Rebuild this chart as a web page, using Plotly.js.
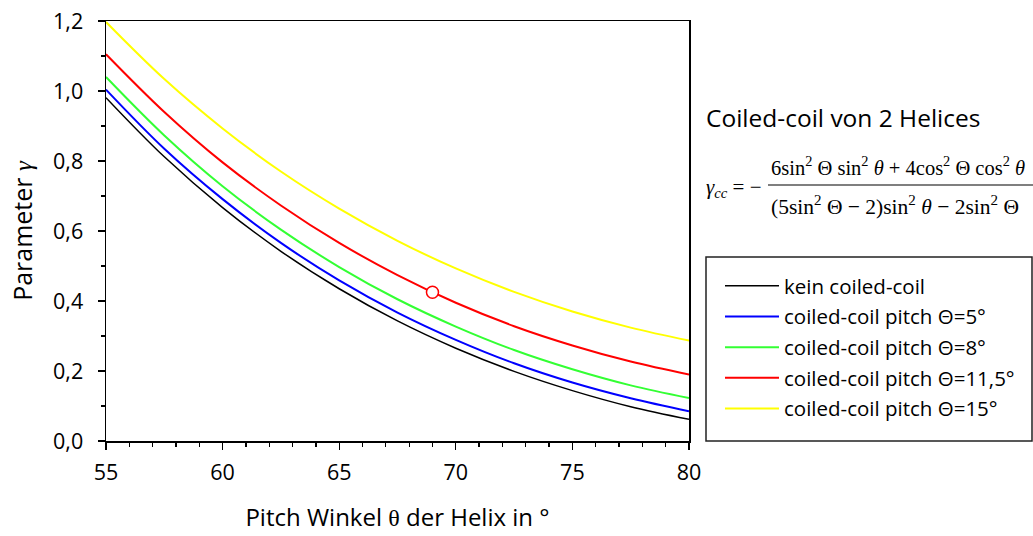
<!DOCTYPE html>
<html>
<head>
<meta charset="utf-8">
<script src="https://cdn.plot.ly/plotly-3.0.1.min.js"></script>
<style>html,body{margin:0;padding:0;background:#fff;}#chart{width:1033px;height:536px;}</style>
</head>
<body>
<div id="chart"></div>
<script>
// Pitch angle theta (degrees)
const pitchAngles = [55, 57.5, 60, 62.5, 65, 67.5, 70, 72.5, 75, 77.5, 80];
// gamma values
const gammaNoCoil   = [0.981, 0.812, 0.667, 0.542, 0.435, 0.343, 0.265, 0.199, 0.144, 0.098, 0.062];
const gammaTheta5   = [1.004, 0.835, 0.691, 0.566, 0.459, 0.367, 0.289, 0.222, 0.167, 0.122, 0.085];
const gammaTheta8   = [1.040, 0.873, 0.728, 0.604, 0.497, 0.405, 0.327, 0.260, 0.205, 0.159, 0.123];
const gammaTheta115 = [1.105, 0.940, 0.796, 0.673, 0.566, 0.474, 0.395, 0.328, 0.273, 0.227, 0.190];
const gammaTheta15  = [1.197, 1.034, 0.893, 0.770, 0.664, 0.572, 0.493, 0.426, 0.370, 0.324, 0.287];
const seriesNames = ["kein coiled-coil", "coiled-coil pitch Θ=5°", "coiled-coil pitch Θ=8°", "coiled-coil pitch Θ=11,5°", "coiled-coil pitch Θ=15°"];
const seriesColors = ["#000000", "#0000ff", "#33ff33", "#ff0000", "#ffff00"];
// highlighted point on the Θ=11,5° curve
const markX = [69];
const markY = [0.425];

const ys = [gammaNoCoil, gammaTheta5, gammaTheta8, gammaTheta115, gammaTheta15];
const traces = ys.map((y, i) => ({
  x: pitchAngles, y: y, type: 'scatter', mode: 'lines', name: seriesNames[i],
  legendgroup: 'g' + i,
  line: {color: seriesColors[i], width: i === 0 ? 1.5 : 2, shape: 'spline', smoothing: 1},
  hoverinfo: 'skip'
}));
traces.push({
  x: markX, y: markY, type: 'scatter', mode: 'markers', showlegend: false,
  marker: {symbol: 'circle', size: 12, color: '#ffffff', line: {color: '#ff0000', width: 1.5}}
});

const F = 'Open Sans, sans-serif';
const S = 'Liberation Serif, serif';
const px = v => (v - 106) / 583;
const py = v => (441 - v) / 420;

const layout = {
  width: 1033, height: 536,
  margin: {l: 106, r: 344, t: 21, b: 95, pad: 0},
  paper_bgcolor: '#fff', plot_bgcolor: '#fff',
  separators: ', ',
  font: {family: F, color: '#000', size: 21},
  showlegend: true,
  legend: {x: px(720), y: py(266), xanchor: 'left', yanchor: 'top', bgcolor: 'rgba(0,0,0,0)',
           borderwidth: 0, font: {family: F, size: 20.5, color: '#000'}, tracegroupgap: 1, itemwidth: 54},
  xaxis: {
    range: [55, 80], dtick: 5, tick0: 55, showgrid: false, zeroline: false,
    showline: true, linecolor: '#000', linewidth: 1.5, mirror: true,
    ticks: 'outside', ticklen: 7, tickwidth: 1.3, tickcolor: '#000',
    minor: {dtick: 1, ticks: 'outside', ticklen: 4, tickwidth: 1.3, tickcolor: '#000', showgrid: false},
    tickfont: {family: F, size: 21.5}, ticklabelstandoff: 5,
    title: {text: 'Pitch Winkel <span style="font-family:Liberation Serif">θ</span> der Helix in °', font: {family: F, size: 24}, standoff: 24}
  },
  yaxis: {
    range: [0, 1.2], dtick: 0.2, tick0: 0, tickformat: '.1f', showgrid: false, zeroline: false,
    showline: true, linecolor: '#000', linewidth: 1.5, mirror: true,
    ticks: 'outside', ticklen: 7, tickwidth: 1.3, tickcolor: '#000',
    minor: {dtick: 0.1, ticks: 'outside', ticklen: 4, tickwidth: 1.3, tickcolor: '#000', showgrid: false},
    tickfont: {family: F, size: 21.5}, ticklabelstandoff: 10,
    title: {text: 'Parameter <span style="font-family:Liberation Serif"><i>γ</i></span>', font: {family: F, size: 25}, standoff: 13}
  },
  shapes: [
    {type: 'rect', xref: 'paper', yref: 'paper', x0: px(706), x1: px(1032), y0: py(441), y1: py(257),
     line: {color: '#222', width: 1.5}, fillcolor: 'rgba(0,0,0,0)'},
    {type: 'line', xref: 'paper', yref: 'paper', x0: px(768), x1: px(1040), y0: py(185), y1: py(185),
     line: {color: '#000', width: 1.2}}
  ],
  annotations: [
    {xref: 'paper', yref: 'paper', x: px(704), y: py(118), xanchor: 'left', yanchor: 'middle', showarrow: false,
     text: 'Coiled-coil von 2 Helices', font: {family: F, size: 24.5, color: '#000'}},
    {xref: 'paper', yref: 'paper', x: px(704), y: py(188), xanchor: 'left', yanchor: 'middle', showarrow: false,
     text: '<i>γ</i><sub><i>cc</i></sub> = −', font: {family: S, size: 21, color: '#000'}},
    {xref: 'paper', yref: 'paper', x: px(769), y: py(166), xanchor: 'left', yanchor: 'middle', showarrow: false,
     text: '6sin<sup>2</sup> Θ sin<sup>2</sup> <i>θ</i> + 4cos<sup>2</sup> Θ cos<sup>2</sup> <i>θ</i>', font: {family: S, size: 20.5, color: '#000'}},
    {xref: 'paper', yref: 'paper', x: px(769), y: py(205), xanchor: 'left', yanchor: 'middle', showarrow: false,
     text: '(5sin<sup>2</sup> Θ − 2)sin<sup>2</sup> <i>θ</i> − 2sin<sup>2</sup> Θ', font: {family: S, size: 21.5, color: '#000'}}
  ]
};

Plotly.newPlot('chart', traces, layout, {staticPlot: true, displayModeBar: false});
</script>
</body>
</html>
